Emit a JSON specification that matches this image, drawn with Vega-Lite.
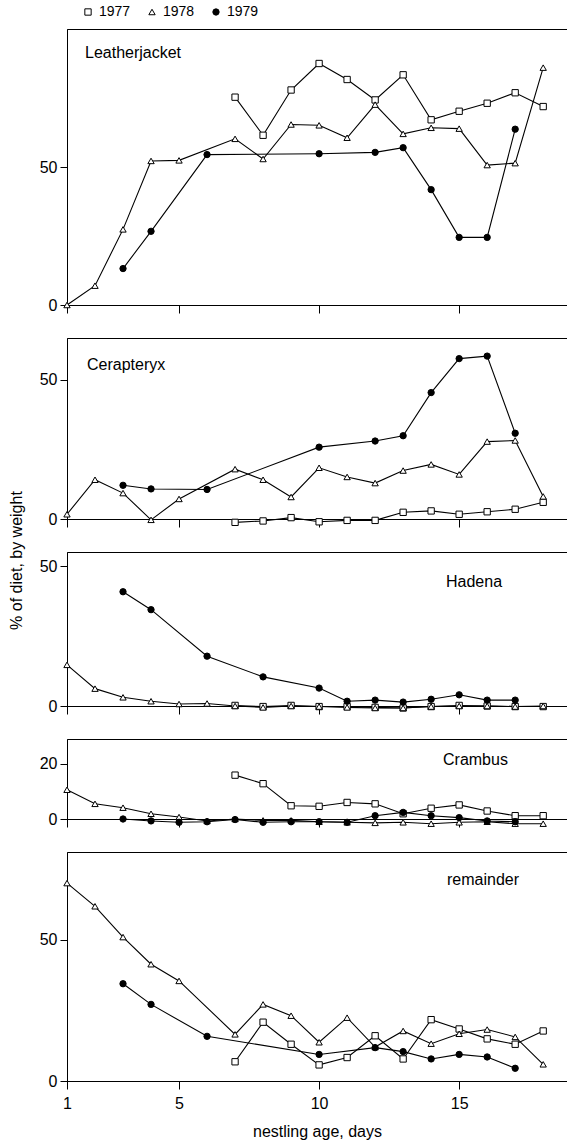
{
  "$schema": "https://vega.github.io/schema/vega-lite/v6.json",
  "padding": {"left": 7, "top": 5, "right": 0, "bottom": 0},
  "background": "white",
  "bounds": "flush",
  "spacing": 33,
  "datasets": {
    "diet": [
      {"p": "Leatherjacket", "year": "1977", "day": 7, "v": 75.3},
      {"p": "Leatherjacket", "year": "1977", "day": 8, "v": 61.5},
      {"p": "Leatherjacket", "year": "1977", "day": 9, "v": 77.9},
      {"p": "Leatherjacket", "year": "1977", "day": 10, "v": 87.5},
      {"p": "Leatherjacket", "year": "1977", "day": 11, "v": 81.7},
      {"p": "Leatherjacket", "year": "1977", "day": 12, "v": 74.3},
      {"p": "Leatherjacket", "year": "1977", "day": 13, "v": 83.4},
      {"p": "Leatherjacket", "year": "1977", "day": 14, "v": 67.1},
      {"p": "Leatherjacket", "year": "1977", "day": 15, "v": 70.2},
      {"p": "Leatherjacket", "year": "1977", "day": 16, "v": 73.1},
      {"p": "Leatherjacket", "year": "1977", "day": 17, "v": 76.9},
      {"p": "Leatherjacket", "year": "1977", "day": 18, "v": 71.9},
      {"p": "Leatherjacket", "year": "1978", "day": 1, "v": 0},
      {"p": "Leatherjacket", "year": "1978", "day": 2, "v": 7.0},
      {"p": "Leatherjacket", "year": "1978", "day": 3, "v": 27.4},
      {"p": "Leatherjacket", "year": "1978", "day": 4, "v": 52.2},
      {"p": "Leatherjacket", "year": "1978", "day": 5, "v": 52.4},
      {"p": "Leatherjacket", "year": "1978", "day": 7, "v": 60.2},
      {"p": "Leatherjacket", "year": "1978", "day": 8, "v": 52.9},
      {"p": "Leatherjacket", "year": "1978", "day": 9, "v": 65.4},
      {"p": "Leatherjacket", "year": "1978", "day": 10, "v": 65.1},
      {"p": "Leatherjacket", "year": "1978", "day": 11, "v": 60.6},
      {"p": "Leatherjacket", "year": "1978", "day": 12, "v": 72.6},
      {"p": "Leatherjacket", "year": "1978", "day": 13, "v": 62.0},
      {"p": "Leatherjacket", "year": "1978", "day": 14, "v": 64.2},
      {"p": "Leatherjacket", "year": "1978", "day": 15, "v": 63.9},
      {"p": "Leatherjacket", "year": "1978", "day": 16, "v": 50.7},
      {"p": "Leatherjacket", "year": "1978", "day": 17, "v": 51.4},
      {"p": "Leatherjacket", "year": "1978", "day": 18, "v": 86.0},
      {"p": "Leatherjacket", "year": "1979", "day": 3, "v": 13.2},
      {"p": "Leatherjacket", "year": "1979", "day": 4, "v": 26.7},
      {"p": "Leatherjacket", "year": "1979", "day": 6, "v": 54.5},
      {"p": "Leatherjacket", "year": "1979", "day": 10, "v": 54.8},
      {"p": "Leatherjacket", "year": "1979", "day": 12, "v": 55.3},
      {"p": "Leatherjacket", "year": "1979", "day": 13, "v": 57.0},
      {"p": "Leatherjacket", "year": "1979", "day": 14, "v": 41.8},
      {"p": "Leatherjacket", "year": "1979", "day": 15, "v": 24.5},
      {"p": "Leatherjacket", "year": "1979", "day": 16, "v": 24.5},
      {"p": "Leatherjacket", "year": "1979", "day": 17, "v": 63.7},

      {"p": "Cerapteryx", "year": "1977", "day": 7, "v": -1.2},
      {"p": "Cerapteryx", "year": "1977", "day": 8, "v": -0.7},
      {"p": "Cerapteryx", "year": "1977", "day": 9, "v": 0.5},
      {"p": "Cerapteryx", "year": "1977", "day": 10, "v": -1.0},
      {"p": "Cerapteryx", "year": "1977", "day": 11, "v": -0.5},
      {"p": "Cerapteryx", "year": "1977", "day": 12, "v": -0.5},
      {"p": "Cerapteryx", "year": "1977", "day": 13, "v": 2.4},
      {"p": "Cerapteryx", "year": "1977", "day": 14, "v": 2.9},
      {"p": "Cerapteryx", "year": "1977", "day": 15, "v": 1.7},
      {"p": "Cerapteryx", "year": "1977", "day": 16, "v": 2.6},
      {"p": "Cerapteryx", "year": "1977", "day": 17, "v": 3.5},
      {"p": "Cerapteryx", "year": "1977", "day": 18, "v": 6.0},
      {"p": "Cerapteryx", "year": "1978", "day": 1, "v": 1.7},
      {"p": "Cerapteryx", "year": "1978", "day": 2, "v": 14.1},
      {"p": "Cerapteryx", "year": "1978", "day": 3, "v": 9.3},
      {"p": "Cerapteryx", "year": "1978", "day": 4, "v": -0.3},
      {"p": "Cerapteryx", "year": "1978", "day": 5, "v": 7.2},
      {"p": "Cerapteryx", "year": "1978", "day": 7, "v": 17.9},
      {"p": "Cerapteryx", "year": "1978", "day": 8, "v": 14.1},
      {"p": "Cerapteryx", "year": "1978", "day": 9, "v": 7.9},
      {"p": "Cerapteryx", "year": "1978", "day": 10, "v": 18.4},
      {"p": "Cerapteryx", "year": "1978", "day": 11, "v": 15.1},
      {"p": "Cerapteryx", "year": "1978", "day": 12, "v": 12.9},
      {"p": "Cerapteryx", "year": "1978", "day": 13, "v": 17.4},
      {"p": "Cerapteryx", "year": "1978", "day": 14, "v": 19.6},
      {"p": "Cerapteryx", "year": "1978", "day": 15, "v": 16.0},
      {"p": "Cerapteryx", "year": "1978", "day": 16, "v": 27.8},
      {"p": "Cerapteryx", "year": "1978", "day": 17, "v": 28.2},
      {"p": "Cerapteryx", "year": "1978", "day": 18, "v": 8.1},
      {"p": "Cerapteryx", "year": "1979", "day": 3, "v": 12.1},
      {"p": "Cerapteryx", "year": "1979", "day": 4, "v": 10.8},
      {"p": "Cerapteryx", "year": "1979", "day": 6, "v": 10.6},
      {"p": "Cerapteryx", "year": "1979", "day": 10, "v": 25.8},
      {"p": "Cerapteryx", "year": "1979", "day": 12, "v": 28.0},
      {"p": "Cerapteryx", "year": "1979", "day": 13, "v": 29.9},
      {"p": "Cerapteryx", "year": "1979", "day": 14, "v": 45.4},
      {"p": "Cerapteryx", "year": "1979", "day": 15, "v": 57.6},
      {"p": "Cerapteryx", "year": "1979", "day": 16, "v": 58.5},
      {"p": "Cerapteryx", "year": "1979", "day": 17, "v": 30.8},

      {"p": "Hadena", "year": "1977", "day": 7, "v": 0.2},
      {"p": "Hadena", "year": "1977", "day": 8, "v": -0.2},
      {"p": "Hadena", "year": "1977", "day": 9, "v": 0.2},
      {"p": "Hadena", "year": "1977", "day": 10, "v": -0.2},
      {"p": "Hadena", "year": "1977", "day": 11, "v": -0.2},
      {"p": "Hadena", "year": "1977", "day": 12, "v": -0.5},
      {"p": "Hadena", "year": "1977", "day": 13, "v": -0.7},
      {"p": "Hadena", "year": "1977", "day": 14, "v": -0.2},
      {"p": "Hadena", "year": "1977", "day": 15, "v": 0.2},
      {"p": "Hadena", "year": "1977", "day": 16, "v": 0},
      {"p": "Hadena", "year": "1977", "day": 17, "v": -0.2},
      {"p": "Hadena", "year": "1977", "day": 18, "v": -0.2},
      {"p": "Hadena", "year": "1978", "day": 1, "v": 14.7},
      {"p": "Hadena", "year": "1978", "day": 2, "v": 6.2},
      {"p": "Hadena", "year": "1978", "day": 3, "v": 3.1},
      {"p": "Hadena", "year": "1978", "day": 4, "v": 1.7},
      {"p": "Hadena", "year": "1978", "day": 5, "v": 0.7},
      {"p": "Hadena", "year": "1978", "day": 6, "v": 0.9},
      {"p": "Hadena", "year": "1978", "day": 7, "v": 0},
      {"p": "Hadena", "year": "1978", "day": 8, "v": -0.5},
      {"p": "Hadena", "year": "1978", "day": 9, "v": 0},
      {"p": "Hadena", "year": "1978", "day": 10, "v": -0.2},
      {"p": "Hadena", "year": "1978", "day": 11, "v": -0.5},
      {"p": "Hadena", "year": "1978", "day": 12, "v": -0.7},
      {"p": "Hadena", "year": "1978", "day": 13, "v": -0.7},
      {"p": "Hadena", "year": "1978", "day": 14, "v": -0.2},
      {"p": "Hadena", "year": "1978", "day": 15, "v": 0},
      {"p": "Hadena", "year": "1978", "day": 16, "v": 0},
      {"p": "Hadena", "year": "1978", "day": 17, "v": -0.2},
      {"p": "Hadena", "year": "1978", "day": 18, "v": 0},
      {"p": "Hadena", "year": "1979", "day": 3, "v": 40.8},
      {"p": "Hadena", "year": "1979", "day": 4, "v": 34.4},
      {"p": "Hadena", "year": "1979", "day": 6, "v": 17.8},
      {"p": "Hadena", "year": "1979", "day": 8, "v": 10.4},
      {"p": "Hadena", "year": "1979", "day": 10, "v": 6.4},
      {"p": "Hadena", "year": "1979", "day": 11, "v": 1.7},
      {"p": "Hadena", "year": "1979", "day": 12, "v": 2.1},
      {"p": "Hadena", "year": "1979", "day": 13, "v": 1.4},
      {"p": "Hadena", "year": "1979", "day": 14, "v": 2.4},
      {"p": "Hadena", "year": "1979", "day": 15, "v": 4.0},
      {"p": "Hadena", "year": "1979", "day": 16, "v": 2.1},
      {"p": "Hadena", "year": "1979", "day": 17, "v": 2.1},

      {"p": "Crambus", "year": "1977", "day": 7, "v": 15.9},
      {"p": "Crambus", "year": "1977", "day": 8, "v": 12.8},
      {"p": "Crambus", "year": "1977", "day": 9, "v": 4.8},
      {"p": "Crambus", "year": "1977", "day": 10, "v": 4.6},
      {"p": "Crambus", "year": "1977", "day": 11, "v": 6.0},
      {"p": "Crambus", "year": "1977", "day": 12, "v": 5.5},
      {"p": "Crambus", "year": "1977", "day": 13, "v": 1.9},
      {"p": "Crambus", "year": "1977", "day": 14, "v": 3.9},
      {"p": "Crambus", "year": "1977", "day": 15, "v": 5.1},
      {"p": "Crambus", "year": "1977", "day": 16, "v": 2.9},
      {"p": "Crambus", "year": "1977", "day": 17, "v": 1.2},
      {"p": "Crambus", "year": "1977", "day": 18, "v": 1.2},
      {"p": "Crambus", "year": "1978", "day": 1, "v": 10.6},
      {"p": "Crambus", "year": "1978", "day": 2, "v": 5.5},
      {"p": "Crambus", "year": "1978", "day": 3, "v": 4.1},
      {"p": "Crambus", "year": "1978", "day": 4, "v": 1.9},
      {"p": "Crambus", "year": "1978", "day": 5, "v": 0.7},
      {"p": "Crambus", "year": "1978", "day": 6, "v": -0.7},
      {"p": "Crambus", "year": "1978", "day": 7, "v": 0},
      {"p": "Crambus", "year": "1978", "day": 8, "v": -0.5},
      {"p": "Crambus", "year": "1978", "day": 9, "v": -0.5},
      {"p": "Crambus", "year": "1978", "day": 10, "v": -1.0},
      {"p": "Crambus", "year": "1978", "day": 11, "v": -1.2},
      {"p": "Crambus", "year": "1978", "day": 12, "v": -1.4},
      {"p": "Crambus", "year": "1978", "day": 13, "v": -1.2},
      {"p": "Crambus", "year": "1978", "day": 14, "v": -1.7},
      {"p": "Crambus", "year": "1978", "day": 15, "v": -1.2},
      {"p": "Crambus", "year": "1978", "day": 16, "v": -1.0},
      {"p": "Crambus", "year": "1978", "day": 17, "v": -1.7},
      {"p": "Crambus", "year": "1978", "day": 18, "v": -1.7},
      {"p": "Crambus", "year": "1979", "day": 3, "v": 0},
      {"p": "Crambus", "year": "1979", "day": 4, "v": -0.7},
      {"p": "Crambus", "year": "1979", "day": 5, "v": -1.2},
      {"p": "Crambus", "year": "1979", "day": 6, "v": -1.0},
      {"p": "Crambus", "year": "1979", "day": 7, "v": -0.2},
      {"p": "Crambus", "year": "1979", "day": 8, "v": -1.2},
      {"p": "Crambus", "year": "1979", "day": 9, "v": -1.0},
      {"p": "Crambus", "year": "1979", "day": 10, "v": -1.0},
      {"p": "Crambus", "year": "1979", "day": 11, "v": -1.2},
      {"p": "Crambus", "year": "1979", "day": 12, "v": 1.2},
      {"p": "Crambus", "year": "1979", "day": 13, "v": 2.4},
      {"p": "Crambus", "year": "1979", "day": 14, "v": 1.2},
      {"p": "Crambus", "year": "1979", "day": 15, "v": 0.5},
      {"p": "Crambus", "year": "1979", "day": 16, "v": -0.7},
      {"p": "Crambus", "year": "1979", "day": 17, "v": -1.0},

      {"p": "remainder", "year": "1977", "day": 7, "v": 6.8},
      {"p": "remainder", "year": "1977", "day": 8, "v": 20.8},
      {"p": "remainder", "year": "1977", "day": 9, "v": 13.0},
      {"p": "remainder", "year": "1977", "day": 10, "v": 5.7},
      {"p": "remainder", "year": "1977", "day": 11, "v": 8.3},
      {"p": "remainder", "year": "1977", "day": 12, "v": 16.0},
      {"p": "remainder", "year": "1977", "day": 13, "v": 7.8},
      {"p": "remainder", "year": "1977", "day": 14, "v": 21.7},
      {"p": "remainder", "year": "1977", "day": 15, "v": 18.4},
      {"p": "remainder", "year": "1977", "day": 16, "v": 14.9},
      {"p": "remainder", "year": "1977", "day": 17, "v": 13.0},
      {"p": "remainder", "year": "1977", "day": 18, "v": 17.7},
      {"p": "remainder", "year": "1978", "day": 1, "v": 70.0},
      {"p": "remainder", "year": "1978", "day": 2, "v": 61.8},
      {"p": "remainder", "year": "1978", "day": 3, "v": 50.9},
      {"p": "remainder", "year": "1978", "day": 4, "v": 41.3},
      {"p": "remainder", "year": "1978", "day": 5, "v": 35.4},
      {"p": "remainder", "year": "1978", "day": 7, "v": 16.5},
      {"p": "remainder", "year": "1978", "day": 8, "v": 27.1},
      {"p": "remainder", "year": "1978", "day": 9, "v": 23.1},
      {"p": "remainder", "year": "1978", "day": 10, "v": 13.7},
      {"p": "remainder", "year": "1978", "day": 11, "v": 22.4},
      {"p": "remainder", "year": "1978", "day": 12, "v": 12.0},
      {"p": "remainder", "year": "1978", "day": 13, "v": 17.7},
      {"p": "remainder", "year": "1978", "day": 14, "v": 13.2},
      {"p": "remainder", "year": "1978", "day": 15, "v": 16.7},
      {"p": "remainder", "year": "1978", "day": 16, "v": 18.2},
      {"p": "remainder", "year": "1978", "day": 17, "v": 15.6},
      {"p": "remainder", "year": "1978", "day": 18, "v": 5.9},
      {"p": "remainder", "year": "1979", "day": 3, "v": 34.4},
      {"p": "remainder", "year": "1979", "day": 4, "v": 27.1},
      {"p": "remainder", "year": "1979", "day": 6, "v": 15.8},
      {"p": "remainder", "year": "1979", "day": 10, "v": 9.4},
      {"p": "remainder", "year": "1979", "day": 12, "v": 11.8},
      {"p": "remainder", "year": "1979", "day": 13, "v": 10.4},
      {"p": "remainder", "year": "1979", "day": 14, "v": 7.8},
      {"p": "remainder", "year": "1979", "day": 15, "v": 9.4},
      {"p": "remainder", "year": "1979", "day": 16, "v": 8.5},
      {"p": "remainder", "year": "1979", "day": 17, "v": 4.5}
    ]
  },
  "data": {"name": "diet"},
  "resolve": {"scale": {"shape": "shared", "fill": "shared", "stroke": "shared"}, "legend": {"shape": "shared", "fill": "shared", "stroke": "shared"}},
  "config": {
    "font": "Liberation Sans",
    "view": {"stroke": "black", "strokeWidth": 1},
    "axis": {"grid": false, "domainColor": "black", "tickColor": "black", "labelColor": "black", "labelFontSize": 16, "labelFont": "Liberation Sans", "titleFont": "Liberation Sans", "titleFontSize": 16, "titleFontWeight": "normal", "titleColor": "black", "domainWidth": 1, "tickWidth": 1},
    "axisX": {"tickSize": 8, "labelPadding": 6, "labelFlush": false},
    "axisY": {"tickSize": 7, "labelPadding": 3},
    "title": {"anchor": "start", "frame": "group", "fontSize": 16, "fontWeight": "normal", "baseline": "alphabetic", "color": "black", "font": "Liberation Sans"},
    "legend": {"labelFontSize": 14, "labelFont": "Liberation Sans", "labelColor": "black", "symbolStrokeWidth": 1, "symbolSize": 40, "labelOffset": 4, "columnPadding": 14, "padding": 0}
  },
  "vconcat": [
    {
      "width": 500, "height": 276,
      "title": {"text": "Leatherjacket", "offset": -32, "dx": 18},
      "transform": [{"filter": "datum.p === 'Leatherjacket'"}],
      "encoding": {
        "x": {"field": "day", "type": "quantitative", "scale": {"domain": [1, 18.85], "nice": false, "zero": false}, "axis": {"values": [1, 5, 10, 15], "labels": false, "title": null}},
        "y": {"field": "v", "type": "quantitative", "scale": {"domain": [0, 100], "nice": false}, "axis": {"values": [0, 50], "title": null}}
      },
      "layer": [
        {"mark": {"type": "line", "color": "black", "strokeWidth": 1.1}, "encoding": {"detail": {"field": "year"}}},
        {"mark": {"type": "point", "filled": true, "strokeWidth": 1, "size": 40, "opacity": 1},
         "encoding": {
           "shape": {"field": "year", "type": "nominal", "scale": {"domain": ["1977", "1978", "1979"], "range": ["square", "triangle-up", "circle"]}, "legend": {"title": null, "orient": "none", "direction": "horizontal", "legendX": 14, "legendY": -24}},
           "fill": {"field": "year", "type": "nominal", "scale": {"domain": ["1977", "1978", "1979"], "range": ["white", "white", "black"]}, "legend": {"title": null, "orient": "none", "direction": "horizontal", "legendX": 14, "legendY": -24}},
           "stroke": {"field": "year", "type": "nominal", "scale": {"domain": ["1977", "1978", "1979"], "range": ["black", "black", "black"]}, "legend": {"title": null, "orient": "none", "direction": "horizontal", "legendX": 14, "legendY": -24}}
         }}
      ]
    },
    {
      "width": 500, "height": 181,
      "title": {"text": "Cerapteryx", "offset": -35, "dx": 20},
      "transform": [{"filter": "datum.p === 'Cerapteryx'"}],
      "encoding": {
        "x": {"field": "day", "type": "quantitative", "scale": {"domain": [1, 18.85], "nice": false, "zero": false}, "axis": {"values": [1, 5, 10, 15], "labels": false, "title": null}},
        "y": {"field": "v", "type": "quantitative", "scale": {"domain": [0, 65], "nice": false}, "axis": {"values": [0, 50], "title": null}}
      },
      "layer": [
        {"mark": {"type": "line", "color": "black", "strokeWidth": 1.1}, "encoding": {"detail": {"field": "year"}}},
        {"mark": {"type": "point", "filled": true, "strokeWidth": 1, "size": 40, "opacity": 1},
         "encoding": {
           "shape": {"field": "year", "type": "nominal", "scale": {"domain": ["1977", "1978", "1979"], "range": ["square", "triangle-up", "circle"]}, "legend": {"title": null, "orient": "none", "direction": "horizontal", "legendX": 14, "legendY": -24}},
           "fill": {"field": "year", "type": "nominal", "scale": {"domain": ["1977", "1978", "1979"], "range": ["white", "white", "black"]}, "legend": {"title": null, "orient": "none", "direction": "horizontal", "legendX": 14, "legendY": -24}},
           "stroke": {"field": "year", "type": "nominal", "scale": {"domain": ["1977", "1978", "1979"], "range": ["black", "black", "black"]}, "legend": {"title": null, "orient": "none", "direction": "horizontal", "legendX": 14, "legendY": -24}}
         }}
      ]
    },
    {
      "width": 500, "height": 154,
      "title": {"text": "Hadena", "offset": -99, "dx": 379},
      "transform": [{"filter": "datum.p === 'Hadena'"}],
      "encoding": {
        "x": {"field": "day", "type": "quantitative", "scale": {"domain": [1, 18.85], "nice": false, "zero": false}, "axis": {"values": [1, 5, 10, 15], "labels": false, "title": null}},
        "y": {"field": "v", "type": "quantitative", "scale": {"domain": [0, 55], "nice": false}, "axis": {"values": [0, 50], "title": "% of diet, by weight", "titleX": -51, "titleY": 8, "titleAngle": -90, "titleAlign": "center", "titleBaseline": "middle"}}
      },
      "layer": [
        {"mark": {"type": "line", "color": "black", "strokeWidth": 1.1}, "encoding": {"detail": {"field": "year"}}},
        {"mark": {"type": "point", "filled": true, "strokeWidth": 1, "size": 40, "opacity": 1},
         "encoding": {
           "shape": {"field": "year", "type": "nominal", "scale": {"domain": ["1977", "1978", "1979"], "range": ["square", "triangle-up", "circle"]}, "legend": {"title": null, "orient": "none", "direction": "horizontal", "legendX": 14, "legendY": -24}},
           "fill": {"field": "year", "type": "nominal", "scale": {"domain": ["1977", "1978", "1979"], "range": ["white", "white", "black"]}, "legend": {"title": null, "orient": "none", "direction": "horizontal", "legendX": 14, "legendY": -24}},
           "stroke": {"field": "year", "type": "nominal", "scale": {"domain": ["1977", "1978", "1979"], "range": ["black", "black", "black"]}, "legend": {"title": null, "orient": "none", "direction": "horizontal", "legendX": 14, "legendY": -24}}
         }}
      ]
    },
    {
      "width": 500, "height": 80,
      "title": {"text": "Crambus", "offset": -29, "dx": 376},
      "transform": [{"filter": "datum.p === 'Crambus'"}],
      "encoding": {
        "x": {"field": "day", "type": "quantitative", "scale": {"domain": [1, 18.85], "nice": false, "zero": false}, "axis": {"values": [1, 5, 10, 15], "labels": false, "title": null}},
        "y": {"field": "v", "type": "quantitative", "scale": {"domain": [0, 29], "nice": false}, "axis": {"values": [0, 20], "title": null}}
      },
      "layer": [
        {"mark": {"type": "line", "color": "black", "strokeWidth": 1.1}, "encoding": {"detail": {"field": "year"}}},
        {"mark": {"type": "point", "filled": true, "strokeWidth": 1, "size": 40, "opacity": 1},
         "encoding": {
           "shape": {"field": "year", "type": "nominal", "scale": {"domain": ["1977", "1978", "1979"], "range": ["square", "triangle-up", "circle"]}, "legend": {"title": null, "orient": "none", "direction": "horizontal", "legendX": 14, "legendY": -24}},
           "fill": {"field": "year", "type": "nominal", "scale": {"domain": ["1977", "1978", "1979"], "range": ["white", "white", "black"]}, "legend": {"title": null, "orient": "none", "direction": "horizontal", "legendX": 14, "legendY": -24}},
           "stroke": {"field": "year", "type": "nominal", "scale": {"domain": ["1977", "1978", "1979"], "range": ["black", "black", "black"]}, "legend": {"title": null, "orient": "none", "direction": "horizontal", "legendX": 14, "legendY": -24}}
         }}
      ]
    },
    {
      "width": 500, "height": 229,
      "title": {"text": "remainder", "offset": -36, "dx": 380},
      "transform": [{"filter": "datum.p === 'remainder'"}],
      "encoding": {
        "x": {"field": "day", "type": "quantitative", "scale": {"domain": [1, 18.85], "nice": false, "zero": false}, "axis": {"values": [1, 5, 10, 15], "title": "nestling age, days", "titlePadding": 12}},
        "y": {"field": "v", "type": "quantitative", "scale": {"domain": [0, 81], "nice": false}, "axis": {"values": [0, 50], "title": null}}
      },
      "layer": [
        {"mark": {"type": "line", "color": "black", "strokeWidth": 1.1}, "encoding": {"detail": {"field": "year"}}},
        {"mark": {"type": "point", "filled": true, "strokeWidth": 1, "size": 40, "opacity": 1},
         "encoding": {
           "shape": {"field": "year", "type": "nominal", "scale": {"domain": ["1977", "1978", "1979"], "range": ["square", "triangle-up", "circle"]}, "legend": {"title": null, "orient": "none", "direction": "horizontal", "legendX": 14, "legendY": -24}},
           "fill": {"field": "year", "type": "nominal", "scale": {"domain": ["1977", "1978", "1979"], "range": ["white", "white", "black"]}, "legend": {"title": null, "orient": "none", "direction": "horizontal", "legendX": 14, "legendY": -24}},
           "stroke": {"field": "year", "type": "nominal", "scale": {"domain": ["1977", "1978", "1979"], "range": ["black", "black", "black"]}, "legend": {"title": null, "orient": "none", "direction": "horizontal", "legendX": 14, "legendY": -24}}
         }}
      ]
    }
  ]
}
